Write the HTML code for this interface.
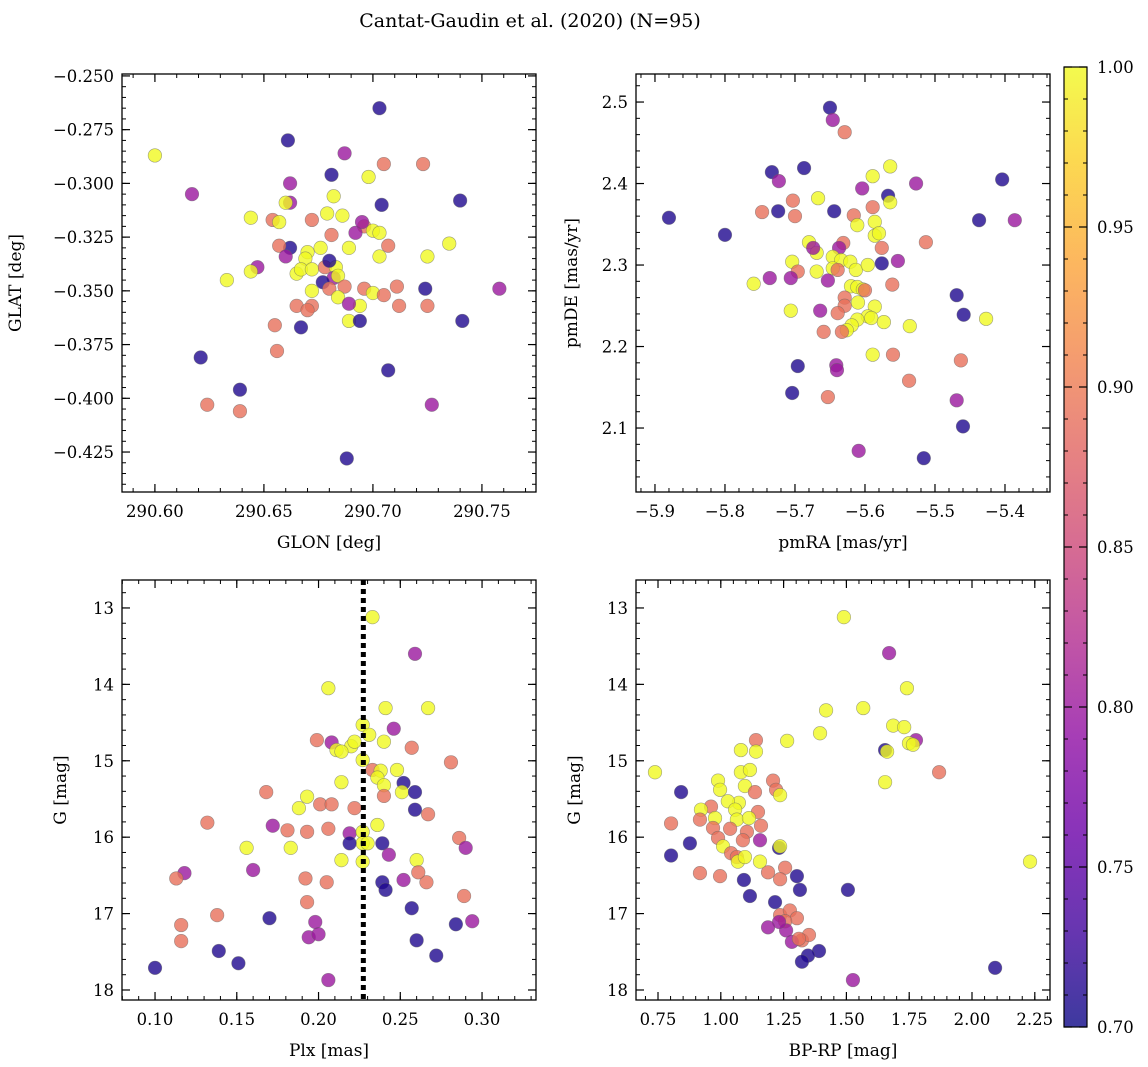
<!DOCTYPE html>
<html><head><meta charset="utf-8"><style>
body{margin:0;background:#fff;}
svg{display:block;font-family:"DejaVu Serif","Liberation Serif",serif;}
</style></head><body>
<svg id="s" width="1148" height="1067" xmlns="http://www.w3.org/2000/svg">
<text x="530" y="27" text-anchor="middle" font-size="19">Cantat-Gaudin et al. (2020) (N=95)</text>
</svg>
<script>
// Panel 1: GLON / GLAT
const p1x=[290.600,290.617,290.703,290.661,290.681,290.687,290.705,290.723,290.740,290.704,290.662,290.662,290.660,290.644,290.654,290.657,290.672,290.679,290.682,290.686,290.698,290.696,290.700,290.703,290.681,290.692,290.695,290.707,290.689,290.676,290.662,290.657,290.670,290.669,290.703,290.725,290.735,290.647,290.660,290.633,290.644,290.665,290.667,290.672,290.678,290.683,290.680,290.682,290.684,290.677,290.680,290.687,290.672,290.684,290.696,290.700,290.705,290.694,290.711,290.724,290.665,290.672,290.670,290.689,290.689,290.694,290.712,290.725,290.741,290.758,290.667,290.655,290.656,290.621,290.707,290.639,290.624,290.639,290.727,290.688];
const p1y=[-0.287,-0.305,-0.265,-0.280,-0.296,-0.286,-0.291,-0.291,-0.308,-0.310,-0.300,-0.309,-0.309,-0.316,-0.317,-0.318,-0.317,-0.314,-0.306,-0.315,-0.297,-0.320,-0.322,-0.323,-0.324,-0.323,-0.318,-0.329,-0.330,-0.330,-0.330,-0.329,-0.332,-0.335,-0.334,-0.334,-0.328,-0.339,-0.334,-0.345,-0.341,-0.342,-0.340,-0.340,-0.339,-0.339,-0.336,-0.344,-0.343,-0.346,-0.349,-0.348,-0.350,-0.353,-0.349,-0.351,-0.352,-0.357,-0.348,-0.349,-0.357,-0.357,-0.359,-0.356,-0.364,-0.364,-0.357,-0.357,-0.364,-0.349,-0.367,-0.366,-0.378,-0.381,-0.387,-0.396,-0.403,-0.406,-0.403,-0.428];
const p1c=[1,.8,.71,.71,.71,.8,.89,.89,.71,.71,.8,.8,1,1,.89,1,.89,1,1,1,1,.89,1,1,.89,.8,.8,.89,1,1,.71,.89,1,1,1,1,1,.8,.8,1,1,1,1,1,.89,1,.71,.8,1,.71,.89,.89,1,1,.89,1,.89,1,.89,.71,.89,.89,.89,.8,1,.71,.89,.89,.71,.8,.71,.89,.89,.71,.71,.71,.89,.89,.8,.71];
// Panel 2: pmRA / pmDE
const p2x=[-5.880,-5.800,-5.733,-5.723,-5.687,-5.650,-5.646,-5.629,-5.747,-5.724,-5.703,-5.700,-5.667,-5.644,-5.604,-5.589,-5.564,-5.567,-5.564,-5.527,-5.589,-5.616,-5.586,-5.586,-5.580,-5.576,-5.611,-5.680,-5.669,-5.674,-5.631,-5.637,-5.646,-5.634,-5.621,-5.704,-5.696,-5.669,-5.646,-5.639,-5.613,-5.596,-5.576,-5.553,-5.513,-5.437,-5.386,-5.404,-5.759,-5.706,-5.736,-5.653,-5.620,-5.611,-5.603,-5.600,-5.561,-5.629,-5.629,-5.586,-5.610,-5.469,-5.459,-5.427,-5.706,-5.664,-5.639,-5.596,-5.591,-5.573,-5.536,-5.611,-5.619,-5.626,-5.659,-5.633,-5.641,-5.640,-5.696,-5.560,-5.589,-5.463,-5.537,-5.653,-5.704,-5.469,-5.460,-5.609,-5.516];
const p2y=[2.358,2.337,2.414,2.403,2.419,2.493,2.478,2.463,2.365,2.366,2.379,2.360,2.382,2.366,2.394,2.409,2.421,2.385,2.377,2.400,2.371,2.361,2.353,2.336,2.339,2.321,2.349,2.328,2.315,2.321,2.327,2.321,2.310,2.306,2.304,2.304,2.292,2.292,2.296,2.294,2.294,2.300,2.302,2.305,2.328,2.355,2.355,2.405,2.277,2.284,2.284,2.281,2.274,2.273,2.270,2.269,2.276,2.260,2.250,2.249,2.254,2.263,2.239,2.234,2.244,2.244,2.241,2.237,2.235,2.230,2.225,2.233,2.226,2.220,2.218,2.218,2.177,2.171,2.176,2.190,2.190,2.183,2.158,2.138,2.143,2.134,2.102,2.072,2.063];
const p2c=[.71,.71,.71,.8,.71,.71,.8,.89,.89,.71,.89,.89,1,.71,.8,1,1,.71,1,.8,.89,.89,1,1,1,.89,1,1,1,.8,.89,.8,1,1,1,1,.89,1,1,.89,1,1,.71,.8,.89,.71,.8,.71,1,.8,.8,.8,1,1,1,.89,.89,.89,.89,1,1,.71,.71,1,1,.8,.89,1,1,1,1,1,1,1,.89,.89,.8,.8,.71,.89,1,.89,.89,.89,.71,.8,.71,.8,.71];
// Panel 3: Plx / G
const p3x=[0.233,0.259,0.206,0.267,0.241,0.246,0.227,0.231,0.199,0.208,0.220,0.222,0.211,0.214,0.240,0.257,0.227,0.233,0.238,0.248,0.281,0.214,0.236,0.240,0.252,0.240,0.251,0.259,0.168,0.193,0.201,0.208,0.188,0.222,0.259,0.267,0.132,0.181,0.193,0.206,0.219,0.236,0.172,0.227,0.227,0.219,0.239,0.230,0.286,0.156,0.183,0.227,0.214,0.243,0.260,0.290,0.160,0.118,0.113,0.192,0.205,0.239,0.252,0.266,0.261,0.241,0.289,0.193,0.257,0.138,0.170,0.116,0.198,0.284,0.294,0.194,0.200,0.116,0.260,0.139,0.272,0.151,0.100,0.206];
const p3y=[13.12,13.60,14.05,14.31,14.31,14.58,14.53,14.66,14.73,14.76,14.81,14.75,14.86,14.88,14.75,14.83,14.99,15.12,15.13,15.12,15.02,15.28,15.22,15.32,15.29,15.46,15.41,15.41,15.41,15.47,15.57,15.57,15.62,15.62,15.64,15.70,15.81,15.91,15.93,15.89,15.95,15.84,15.85,15.93,16.08,16.08,16.08,16.08,16.01,16.14,16.14,16.32,16.30,16.23,16.30,16.14,16.43,16.47,16.54,16.54,16.59,16.59,16.56,16.59,16.46,16.69,16.77,16.85,16.93,17.02,17.06,17.15,17.11,17.14,17.10,17.31,17.27,17.36,17.35,17.49,17.55,17.65,17.71,17.87];
const p3c=[1,.8,1,1,1,.8,1,1,.89,.8,1,1,1,1,1,.89,1,.89,1,1,.89,1,1,1,.71,.89,1,.71,.89,1,.89,.89,1,.89,.71,.89,.89,.89,.89,.89,.8,1,.8,1,1,.71,.71,1,.89,1,1,1,1,.8,1,.8,.8,.8,.89,.89,.89,.71,.8,.89,.89,.71,.89,.89,.71,.89,.71,.89,.8,.71,.8,.8,.8,.89,.71,.71,.71,.71,.71,.8];
const plxLine=0.2274;
// Panel 4: BP-RP / G
const p4x=[1.490,1.670,1.741,1.567,1.419,1.686,1.730,1.777,1.749,1.765,1.395,1.264,1.140,1.080,1.140,1.654,1.662,1.654,1.869,0.738,0.842,0.989,0.997,1.080,1.116,1.096,1.136,1.208,1.220,1.236,1.148,1.072,1.028,0.961,0.921,1.057,1.064,1.112,0.977,0.917,0.969,1.037,1.104,0.877,0.989,1.009,1.088,1.160,1.156,1.232,1.236,1.041,1.064,1.068,0.917,0.997,1.188,1.256,1.156,1.096,1.092,1.236,1.303,1.116,1.315,1.506,0.802,0.802,1.216,1.236,1.275,1.303,1.256,1.260,1.232,1.188,1.323,1.351,1.283,1.311,1.391,1.347,1.323,1.526,2.092,2.231];
const p4y=[13.12,13.59,14.05,14.31,14.34,14.54,14.56,14.73,14.77,14.79,14.64,14.74,14.73,14.86,14.88,14.86,14.88,15.28,15.15,15.15,15.41,15.26,15.38,15.15,15.12,15.33,15.41,15.26,15.38,15.45,15.67,15.55,15.53,15.60,15.64,15.64,15.77,15.75,15.75,15.77,15.88,15.89,15.93,16.08,16.01,16.12,16.04,15.85,16.04,16.14,16.12,16.21,16.26,16.32,16.47,16.51,16.46,16.40,16.32,16.26,16.56,16.55,16.51,16.77,16.69,16.69,15.82,16.24,16.85,17.02,16.96,17.06,17.10,17.22,17.11,17.18,17.35,17.28,17.37,17.33,17.49,17.55,17.63,17.87,17.71,16.32];
const p4c=[1,.8,1,1,1,1,1,.8,1,1,1,1,.89,1,1,.71,1,1,.89,1,.71,1,1,1,1,1,.89,.89,.89,1,.89,1,1,.89,1,1,1,1,1,.89,.89,.89,.89,.71,.89,1,.89,.89,.8,.71,1,.89,.89,1,.89,.89,.89,.89,1,1,.71,.89,.71,.71,.71,.71,.89,.71,.71,.89,.89,.89,.89,.8,.8,.8,.89,.89,.8,.89,.71,.71,.71,.8,.71,1];
const cbTicks=[0.70,0.75,0.80,0.85,0.90,0.95,1.00];

const NS="http://www.w3.org/2000/svg", S=document.getElementById('s');
function mk(t,a,p){const e=document.createElementNS(NS,t);for(const k in a)e.setAttribute(k,a[k]);(p||S).appendChild(e);return e;}
const stops=['#0d0887','#41049d','#6a00a8','#8f0da4','#b12a90','#cc4778','#e16462','#f2844b','#fca636','#fcce25','#f0f921'];
function hx(h){return [1,3,5].map(i=>parseInt(h.substr(i,2),16));}
function cmap(v){let t=Math.max(0,Math.min(1,(v-0.7)/0.3))*10;const i=Math.min(9,Math.floor(t)),f=t-i;const a=hx(stops[i]),b=hx(stops[i+1]);return 'rgb('+a.map((c,k)=>Math.round(c+(b[k]-c)*f)).join(',')+')';}
const FS=16.5;
function panel(name,L,T,W,H,xr,yr,xt,yt,xminor,yminor,xl,yl,ylx,fmtx,fmty,xs,ys,cs){
  const g=mk('g',{});
  
  
  const X=v=>L+(v-xr[0])/(xr[1]-xr[0])*W, Y=v=>T+(v-yr[0])/(yr[1]-yr[0])*H;
  const lo=Math.min(xr[0],xr[1]),hi=Math.max(xr[0],xr[1]);
  for(let v=Math.ceil(lo/xminor-1e-6)*xminor;v<=hi+1e-9;v+=xminor){const x=X(v);mk('line',{x1:x,x2:x,y1:T+H,y2:T+H-4,stroke:'#000','stroke-width':1},g);mk('line',{x1:x,x2:x,y1:T,y2:T+4,stroke:'#000','stroke-width':1},g);}
  const ylo=Math.min(yr[0],yr[1]),yhi=Math.max(yr[0],yr[1]);
  for(let v=Math.ceil(ylo/yminor-1e-6)*yminor;v<=yhi+1e-9;v+=yminor){const y=Y(v);mk('line',{x1:L,x2:L+4,y1:y,y2:y,stroke:'#000','stroke-width':1},g);mk('line',{x1:L+W,x2:L+W-4,y1:y,y2:y,stroke:'#000','stroke-width':1},g);}
  xt.forEach(v=>{const x=X(v);mk('line',{x1:x,x2:x,y1:T+H,y2:T+H-8,stroke:'#000','stroke-width':1.2},g);mk('line',{x1:x,x2:x,y1:T,y2:T+8,stroke:'#000','stroke-width':1.2},g);
    const t=mk('text',{x:x,y:T+H+25,'text-anchor':'middle','font-size':FS},g);t.textContent=fmtx(v);
    
    });
  yt.forEach(v=>{const y=Y(v);mk('line',{x1:L,x2:L+8,y1:y,y2:y,stroke:'#000','stroke-width':1.2},g);mk('line',{x1:L+W,x2:L+W-8,y1:y,y2:y,stroke:'#000','stroke-width':1.2},g);
    const t=mk('text',{x:L-8,y:y+6,'text-anchor':'end','font-size':FS},g);t.textContent=fmty(v);
    
    });
  xs.forEach((v,i)=>{const c=mk('circle',{cx:X(v),cy:Y(ys[i]),r:6.8,fill:cmap(cs[i]),'fill-opacity':0.8,stroke:'#666','stroke-opacity':0.6,'stroke-width':0.6},g);
    
    });
  mk('rect',{x:L,y:T,width:W,height:H,fill:'none',stroke:'#000','stroke-width':1.3},g);
  const a=mk('text',{x:L+W/2,y:T+H+56,'text-anchor':'middle','font-size':17},g);a.textContent=xl;
  
  
  const b=mk('text',{x:ylx,y:T+H/2,'text-anchor':'middle','font-size':17,transform:`rotate(-90 ${ylx} ${T+H/2})`},g);b.textContent=yl;
  
  
  return {X,Y,g};
}
const f=(d)=>v=>v.toFixed(d).replace('-','\u2212');
panel('panel-glon-glat',122,74,414,418,[290.5849,290.7748],[-0.2491,-0.4436],[290.60,290.65,290.70,290.75],[-0.25,-0.275,-0.3,-0.325,-0.35,-0.375,-0.4,-0.425],0.01,0.005,'GLON [deg]','GLAT [deg]',21,f(2),f(3),p1x,p1y,p1c);
panel('panel-pm',636,74,414,418,[-5.9271,-5.3357],[2.5344,2.0215],[-5.9,-5.8,-5.7,-5.6,-5.5,-5.4],[2.1,2.2,2.3,2.4,2.5],0.02,0.02,'pmRA [mas/yr]','pmDE [mas/yr]',577,f(1),f(1),p2x,p2y,p2c);
const P3=panel('panel-plx-g',122,580,414,420,[0.0798,0.3330],[12.634,18.131],[0.10,0.15,0.20,0.25,0.30],[13,14,15,16,17,18],0.01,0.2,'Plx [mas]','G [mag]',66,f(2),f(0),p3x,p3y,p3c);
const ln=mk('line',{x1:P3.X(plxLine),x2:P3.X(plxLine),y1:580,y2:1000,stroke:'#000','stroke-width':5,'stroke-dasharray':'5,4'},P3.g);


panel('panel-cmd',636,580,414,420,[0.6624,2.3105],[12.634,18.131],[0.75,1.00,1.25,1.50,1.75,2.00,2.25],[13,14,15,16,17,18],0.05,0.2,'BP-RP [mag]','G [mag]',580,f(2),f(0),p4x,p4y,p4c);
// colorbar
const cb=mk('g',{});


const d=mk('defs',{},cb),lg=mk('linearGradient',{id:'gr',x1:0,y1:1,x2:0,y2:0},d);
stops.forEach((c,i)=>mk('stop',{offset:i/10,'stop-color':c,'stop-opacity':0.8},lg));
const cT=67,cH=960,cL=1064,cW=23;
mk('rect',{x:cL,y:cT,width:cW,height:cH,fill:'url(#gr)',stroke:'#000','stroke-width':1.2},cb);
const CY=v=>cT+cH-(v-0.7)/0.3*cH;
for(let v=0.7;v<=1.0001;v+=0.01){mk('line',{x1:cL+cW,x2:cL+cW-4,y1:CY(v),y2:CY(v),stroke:'#000'},cb);mk('line',{x1:cL,x2:cL+4,y1:CY(v),y2:CY(v),stroke:'#000'},cb);}
cbTicks.forEach(v=>{mk('line',{x1:cL+cW,x2:cL+cW-8,y1:CY(v),y2:CY(v),stroke:'#000','stroke-width':1.2},cb);mk('line',{x1:cL,x2:cL+8,y1:CY(v),y2:CY(v),stroke:'#000','stroke-width':1.2},cb);
  const t=mk('text',{x:cL+cW+10,y:CY(v)+6,'font-size':FS},cb);t.textContent=v.toFixed(2);
  
  });
</script>
</body></html>
